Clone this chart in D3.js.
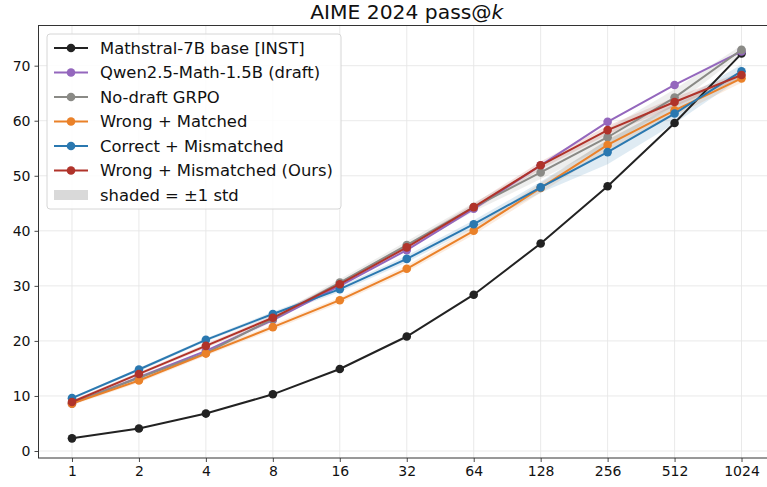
<!DOCTYPE html>
<html>
<head>
<meta charset="utf-8">
<script src="https://cdn.jsdelivr.net/npm/d3@7"></script>
<style>
  body { margin: 0; background: #fff; }
  svg { display: block; font-family: "DejaVu Sans", sans-serif; }
</style>
</head>
<body>
<div id="chart"></div>
<script>
// pass@k values
const ks = [1, 2, 4, 8, 16, 32, 64, 128, 256, 512, 1024];
const mathstral = [2.3, 4.1, 6.8, 10.3, 14.9, 20.8, 28.4, 37.7, 48.1, 59.6, 72.2];
const qwen = [8.6, 13.4, 18.2, 23.8, 30.0, 36.5, 44.0, 51.9, 59.8, 66.5, 72.6];
const noDraft = [8.7, 13.3, 17.8, 24.0, 30.6, 37.4, 44.3, 50.6, 57.0, 64.2, 72.9];
const wrongMatched = [8.6, 12.8, 17.7, 22.5, 27.4, 33.1, 40.0, 47.8, 55.6, 61.9, 67.7];
const correctMismatched = [9.6, 14.8, 20.2, 24.9, 29.4, 34.9, 41.2, 47.9, 54.3, 61.3, 69.0];
const wrongMismatched = [8.9, 14.0, 19.1, 24.2, 30.3, 37.0, 44.3, 51.9, 58.3, 63.4, 68.3];

// ±1 std
const noDraftStd = [0.3, 0.4, 0.4, 0.5, 0.6, 0.7, 0.8, 1.2, 1.5, 1.5, 0.8];
const wrongMatchedStd = [0.3, 0.4, 0.4, 0.5, 0.5, 0.6, 0.7, 0.9, 1.0, 1.0, 0.8];
const correctMismatchedStd = [0.2, 0.3, 0.3, 0.4, 0.5, 0.6, 0.7, 1.0, 2.2, 1.8, 1.2];
const wrongMismatchedStd = [0.3, 0.3, 0.4, 0.4, 0.5, 0.5, 0.6, 0.7, 0.8, 0.8, 0.6];

const yTicks = [0, 10, 20, 30, 40, 50, 60, 70];

const series = [
  {name: "Mathstral-7B base [INST]", color: "#222222", values: mathstral, std: null},
  {name: "Qwen2.5-Math-1.5B (draft)", color: "#9467bd", values: qwen, std: null},
  {name: "No-draft GRPO", color: "#8a8a86", values: noDraft, std: noDraftStd},
  {name: "Wrong + Matched", color: "#ea8129", values: wrongMatched, std: wrongMatchedStd},
  {name: "Correct + Mismatched", color: "#2a78b0", values: correctMismatched, std: correctMismatchedStd},
  {name: "Wrong + Mismatched (Ours)", color: "#b0332a", values: wrongMismatched, std: wrongMismatchedStd}
];

const W = 767, H = 487;
const mLeft = 38.5, mRight = 775, mTop = 25.5, mBottom = 458;

const svg = d3.select("#chart").append("svg")
  .attr("width", W)
  .attr("height", H);

const x = d3.scaleLinear()
  .domain([-0.5, ks.length - 0.5])
  .range([mLeft, mRight]);

const y = d3.scaleLinear()
  .domain([-1.27, 77.3])
  .range([mBottom, mTop]);

// grid
const grid = svg.append("g");
grid.selectAll(".gx").data(ks).join("line")
  .attr("x1", (d, i) => x(i)).attr("x2", (d, i) => x(i))
  .attr("y1", mTop).attr("y2", mBottom)
  .attr("stroke", "#e6e6e6").attr("stroke-width", 0.9);
grid.selectAll(".gy").data(yTicks).join("line")
  .attr("x1", mLeft).attr("x2", mRight)
  .attr("y1", d => y(d)).attr("y2", d => y(d))
  .attr("stroke", "#e6e6e6").attr("stroke-width", 0.9);

// shaded std bands
const area = d3.area()
  .x((d, i) => x(i))
  .y0(d => y(d[0] - d[1]))
  .y1(d => y(d[0] + d[1]));

series.filter(s => s.std).forEach(s => {
  svg.append("path")
    .datum(s.values.map((v, i) => [v, s.std[i]]))
    .attr("d", area)
    .attr("fill", s.color)
    .attr("opacity", 0.15);
});

// lines + markers
const line = d3.line().x((d, i) => x(i)).y(d => y(d));

series.forEach(s => {
  const g = svg.append("g");
  g.append("path")
    .datum(s.values)
    .attr("d", line)
    .attr("fill", "none")
    .attr("stroke", s.color)
    .attr("stroke-width", 2);
  g.selectAll("circle").data(s.values).join("circle")
    .attr("cx", (d, i) => x(i))
    .attr("cy", d => y(d))
    .attr("r", 4.3)
    .attr("fill", s.color);
});

// axes
const xAxis = svg.append("g")
  .attr("transform", "translate(0," + mBottom + ")")
  .call(d3.axisBottom(x)
    .tickValues(d3.range(ks.length))
    .tickFormat(i => ks[i])
    .tickSize(4)
    .tickPadding(4));

const yAxis = svg.append("g")
  .attr("transform", "translate(" + mLeft + ",0)")
  .call(d3.axisLeft(y)
    .tickValues(yTicks)
    .tickSize(4)
    .tickPadding(4));

[xAxis, yAxis].forEach(a => {
  a.select(".domain").remove();
  a.selectAll(".tick line").attr("stroke", "#333").attr("stroke-width", 0.9);
  a.selectAll(".tick text")
    .attr("fill", "#111")
    .style("font-size", "14px")
    .style("font-family", "DejaVu Sans, sans-serif");
});

// frame
svg.append("rect")
  .attr("x", mLeft).attr("y", mTop)
  .attr("width", mRight - mLeft).attr("height", mBottom - mTop)
  .attr("fill", "none")
  .attr("stroke", "#333")
  .attr("stroke-width", 1);

// title
const title = svg.append("text")
  .attr("x", (mLeft + mRight) / 2)
  .attr("y", 19)
  .attr("text-anchor", "middle")
  .style("font-size", "20.3px")
  .attr("fill", "#111");
title.append("tspan").text("AIME 2024 pass@");
title.append("tspan").style("font-style", "italic").text("k");

// legend
const lg = svg.append("g").attr("transform", "translate(47,34)");
lg.append("rect")
  .attr("width", 294).attr("height", 175)
  .attr("rx", 3)
  .attr("fill", "#fff").attr("fill-opacity", 0.85)
  .attr("stroke", "#d6d6d6");

const rowH = 24.5;
series.forEach((s, i) => {
  const ry = 14 + i * rowH;
  lg.append("line")
    .attr("x1", 7).attr("x2", 41)
    .attr("y1", ry).attr("y2", ry)
    .attr("stroke", s.color).attr("stroke-width", 2);
  lg.append("circle")
    .attr("cx", 24).attr("cy", ry).attr("r", 4.3)
    .attr("fill", s.color);
  lg.append("text")
    .attr("x", 53).attr("y", ry)
    .attr("dy", "0.36em")
    .style("font-size", "16.4px")
    .attr("fill", "#111")
    .text(s.name);
});
const shadeY = 14 + series.length * rowH;
lg.append("rect")
  .attr("x", 7).attr("y", shadeY - 5)
  .attr("width", 34).attr("height", 10)
  .attr("fill", "#d9d9d9");
lg.append("text")
  .attr("x", 53).attr("y", shadeY)
  .attr("dy", "0.36em")
  .style("font-size", "16.4px")
  .attr("fill", "#111")
  .text("shaded = \u00b11 std");
</script>
</body>
</html>
